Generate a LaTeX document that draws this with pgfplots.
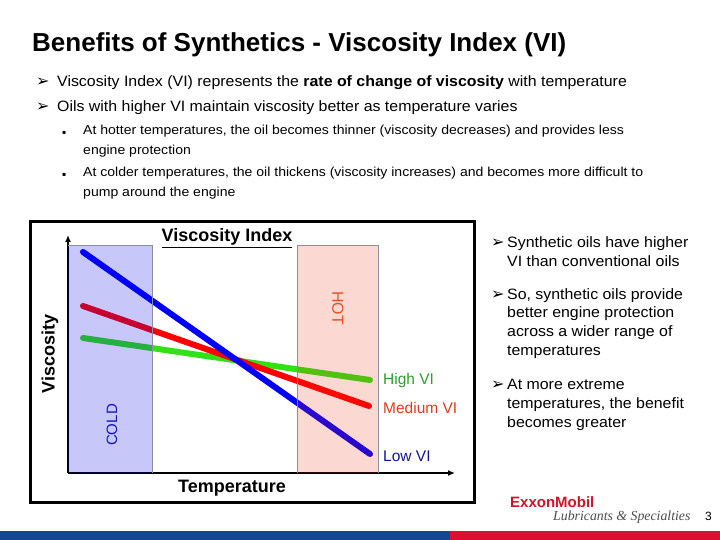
\documentclass[border=0pt]{standalone}
\usepackage{fontspec}
\setmainfont{Liberation Sans}
\newfontfamily\bodyfont[FakeStretch=1.06]{Liberation Sans}
\newfontfamily\subfont[FakeStretch=1.08]{Liberation Sans}
\newfontfamily\dejavu{DejaVu Sans}
\newfontfamily\lserif{Liberation Serif}
\usepackage{pgfplots}
\pgfplotsset{compat=1.18}
\usetikzlibrary{arrows.meta}
\definecolor{coldband}{RGB}{0,0,230}
\definecolor{hotband}{RGB}{235,40,0}
\definecolor{viblue}{RGB}{0,0,250}
\definecolor{vired}{RGB}{255,0,0}
\definecolor{vigreen}{RGB}{50,225,20}
\definecolor{bandedge}{RGB}{140,140,165}
\definecolor{hotlbl}{RGB}{230,80,40}
\definecolor{coldlbl}{RGB}{20,20,190}
\definecolor{highlbl}{RGB}{40,160,40}
\definecolor{medlbl}{RGB}{220,60,30}
\definecolor{lowlbl}{RGB}{20,20,150}
\definecolor{xomred}{RGB}{205,20,40}
\definecolor{barblue}{RGB}{20,70,150}
\definecolor{barred}{RGB}{220,15,50}
\newcommand{\fs}[1]{\fontsize{#1}{#1}\selectfont}
\begin{document}
\begin{tikzpicture}[x=1pt,y=1pt]
\useasboundingbox (0,0) rectangle (720,540);
\fill[white] (0,0) rectangle (720,540);
% title
\node[anchor=base west,inner sep=0] at (32,488) {\fs{26}\bfseries Benefits of Synthetics - Viscosity Index (VI)};
% top bullets
\node[anchor=base west,inner sep=0] at (36,453) {\fs{16}\dejavu ➢};
\node[anchor=base west,inner sep=0] at (57,453) {\fs{15}\bodyfont Viscosity Index (VI) represents the \textbf{rate of change of viscosity} with temperature};
\node[anchor=base west,inner sep=0] at (36,428) {\fs{16}\dejavu ➢};
\node[anchor=base west,inner sep=0] at (57,428) {\fs{15}\bodyfont Oils with higher VI maintain viscosity better as temperature varies};
\node[anchor=base west,inner sep=0] at (62,405) {\fs{6}\dejavu ▪};
\node[anchor=base west,inner sep=0] at (83,405) {\fs{13}\subfont At hotter temperatures, the oil becomes thinner (viscosity decreases) and provides less};
\node[anchor=base west,inner sep=0] at (83,385) {\fs{13}\subfont engine protection};
\node[anchor=base west,inner sep=0] at (62,363) {\fs{6}\dejavu ▪};
\node[anchor=base west,inner sep=0] at (83,363) {\fs{13}\subfont At colder temperatures, the oil thickens (viscosity increases) and becomes more difficult to};
\node[anchor=base west,inner sep=0] at (83,343) {\fs{13}\subfont pump around the engine};
% frame
\draw[line width=3] (30,37) rectangle (474,318);
% chart
\begin{axis}[at={(68pt,67pt)},anchor=south west,scale only axis,
  width=387pt,height=238pt,xmin=68,xmax=455,ymin=67,ymax=305,
  axis lines=left,axis line style={line width=2pt,-{Latex[length=7pt,width=6pt]}},
  ticks=none,clip=false]
\addplot[vigreen,line width=6pt,line cap=round] coordinates {(83,202) (370,160)};
\addplot[vired,line width=6pt,line cap=round] coordinates {(83,234) (369,134)};
\addplot[viblue,line width=6pt,line cap=round] coordinates {(83,288) (370,86)};
\fill[coldband,fill opacity=0.22] (axis cs:68,67) rectangle (axis cs:152,294);
\fill[hotband,fill opacity=0.18] (axis cs:297,67) rectangle (axis cs:378,294);
\draw[bandedge,line width=1pt] (axis cs:68,294) -- (axis cs:152,294) -- (axis cs:152,67);
\draw[bandedge,line width=1pt] (axis cs:297,67) -- (axis cs:297,294) -- (axis cs:378,294) -- (axis cs:378,67);
\end{axis}
\node[anchor=base,inner sep=0] at (227,298) {\fs{18}\bfseries\underline{Viscosity Index}};
\node[rotate=-90,text=hotlbl,inner sep=0] at (338,232) {\fs{16}HOT};
\node[rotate=90,text=coldlbl,inner sep=0] at (112,115) {\fs{15}COLD};
\node[rotate=90,inner sep=0] at (50,186) {\fs{18}\bfseries Viscosity};
\node[inner sep=0] at (232,52) {\fs{18}\bfseries Temperature};
\node[anchor=base west,inner sep=0,text=highlbl] at (383,155) {\fs{15.5}High VI};
\node[anchor=base west,inner sep=0,text=medlbl] at (383,126) {\fs{15.5}Medium VI};
\node[anchor=base west,inner sep=0,text=lowlbl] at (383,78) {\fs{15.5}Low VI};
% right bullets
\foreach \y in {292,240,150} {\node[anchor=base west,inner sep=0] at (491,\y) {\fs{16}\dejavu ➢};}
\node[anchor=base west,inner sep=0] at (507,292) {\fs{15}\bodyfont Synthetic oils have higher};
\node[anchor=base west,inner sep=0] at (507,273) {\fs{15}\bodyfont VI than conventional oils};
\node[anchor=base west,inner sep=0] at (507,240) {\fs{15}\bodyfont So, synthetic oils provide};
\node[anchor=base west,inner sep=0] at (507,222) {\fs{15}\bodyfont better engine protection};
\node[anchor=base west,inner sep=0] at (507,203) {\fs{15}\bodyfont across a wider range of};
\node[anchor=base west,inner sep=0] at (507,184) {\fs{15}\bodyfont temperatures};
\node[anchor=base west,inner sep=0] at (507,150) {\fs{15}\bodyfont At more extreme};
\node[anchor=base west,inner sep=0] at (507,131) {\fs{15}\bodyfont temperatures, the benefit};
\node[anchor=base west,inner sep=0] at (507,112) {\fs{15}\bodyfont becomes greater};
% logo and page number
\node[anchor=base west,inner sep=0,text=xomred] at (510,32) {\fs{15}\bfseries ExxonMobil};
\node[anchor=base west,inner sep=0,text=black!70] at (553,19) {\fs{13.8}\lserif\itshape Lubricants \& Specialties};
\node[anchor=base west,inner sep=0] at (705,19) {\fs{12}3};
% bottom bar
\fill[barblue] (0,0) rectangle (450,9);
\fill[barred] (450,0) rectangle (720,9);
\end{tikzpicture}
\end{document}
